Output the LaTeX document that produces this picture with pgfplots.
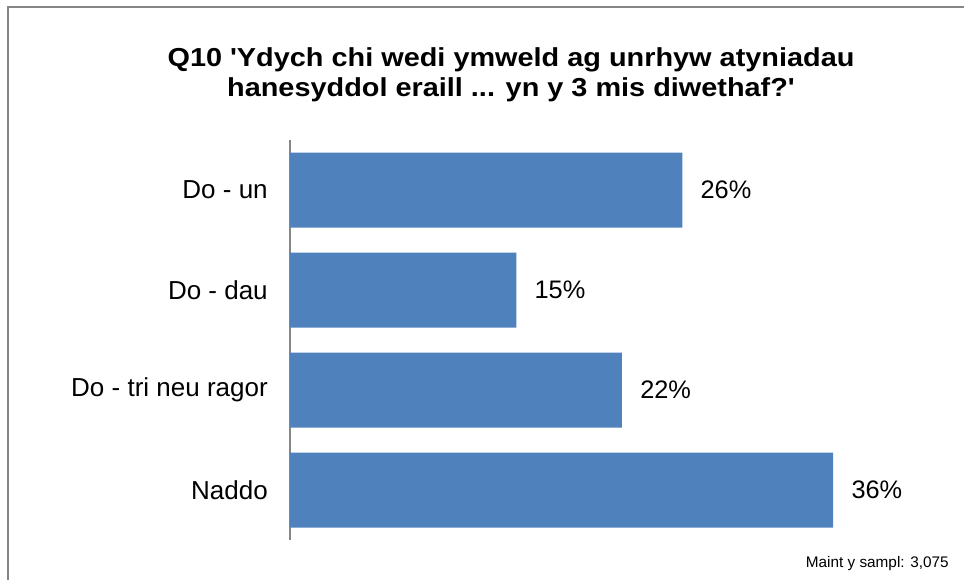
\documentclass[border=0pt]{standalone}
\usepackage{pgfplots}
\pgfplotsset{compat=1.18}
\usepackage{fontspec}
\setmainfont{Liberation Sans}[Ligatures=TeXOff]
\definecolor{barblue}{HTML}{4F81BD}
\definecolor{framegray}{HTML}{868686}
\begin{document}
\begin{tikzpicture}
\path[use as bounding box] (0,0) rectangle (723pt,434.25pt);
\fill[white] (0,0) rectangle (723pt,434.25pt);
\draw[framegray, line width=1.5pt] (6pt,-2pt) -- (6pt,429pt) -- (730pt,429pt);
\node[anchor=base, font=\bfseries\fontsize{19.5}{23}\selectfont, inner sep=0pt] at (383.25pt,384pt) {\scalebox{1.11}[1]{Q10 'Ydych chi wedi ymweld ag unrhyw atyniadau}};
\node[anchor=base, font=\bfseries\fontsize{19.5}{23}\selectfont, inner sep=0pt] at (383.25pt,361.5pt) {\scalebox{1.11}[1]{hanesyddol eraill ... yn y 3 mis diwethaf?'}};
\node[anchor=base east, font=\fontsize{11.5}{14}\selectfont, inner sep=0pt] at (711.75pt,9pt) {Maint y sampl: 3,075};
\begin{axis}[
  at={(217.5pt,29.25pt)}, anchor=south west,
  scale only axis, width=452.7pt, height=300pt,
  xmin=0, xmax=40, ymin=-0.5, ymax=3.5,
  y dir=reverse,
  axis x line=none,
  axis y line*=left,
  y axis line style={framegray, line width=1.5pt},
  ytick={0,1,2,3},
  yticklabels={Do - un, Do - dau, Do - tri neu ragor, Naddo},
  major tick length=0pt,
  yticklabel style={font=\fontsize{19.5}{23}\selectfont, inner sep=0pt, xshift=-16.5pt},
  xbar, bar width=56.25pt,
  point meta=x,
  nodes near coords={\pgfmathprintnumber{\pgfplotspointmeta}\%},
  nodes near coords style={font=\fontsize{19}{23}\selectfont, anchor=west, inner sep=0pt, xshift=13.5pt},
  /pgf/number format/assume math mode=true,
  clip=false,
]
\addplot[fill=barblue, draw=none] coordinates {(26,0) (15,1) (22,2) (36,3)};
\end{axis}
\end{tikzpicture}
\end{document}
